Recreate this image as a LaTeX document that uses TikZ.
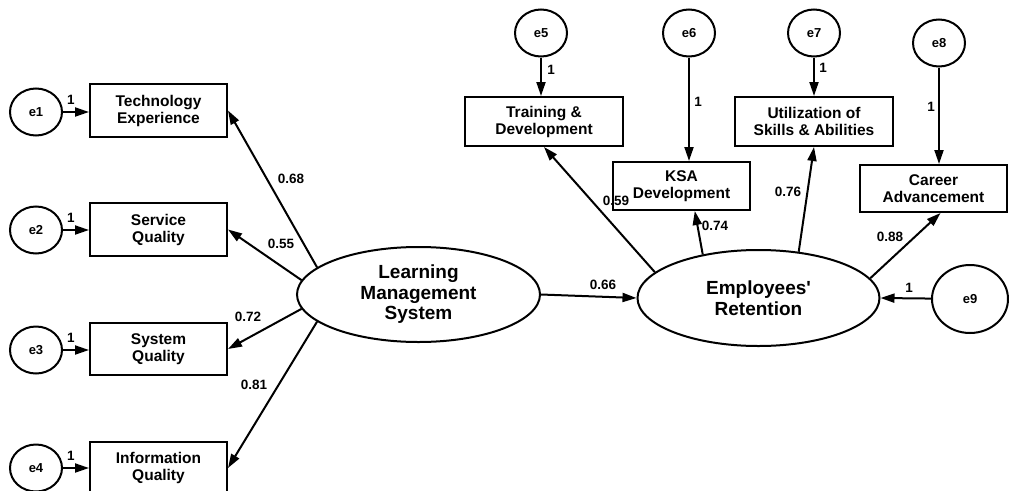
\documentclass[tikz,border=0pt]{standalone}
\usepackage{fontspec}
\setmainfont{Liberation Sans}
\usetikzlibrary{arrows.meta,shapes.geometric}
\begin{document}
\begin{tikzpicture}[x=1pt,y=-1pt,
  line width=2pt,
  obs/.style={draw,rectangle,inner sep=0pt,align=center,
    font=\bfseries\fontsize{15.5}{17}\selectfont},
  lat/.style={draw,ellipse,inner sep=0pt,align=center,
    minimum width=243pt,minimum height=95pt,
    font=\bfseries\fontsize{19}{20.5}\selectfont},
  err/.style={draw,ellipse,inner sep=0pt,minimum width=52pt,minimum height=47pt,
    font=\bfseries\fontsize{13}{14}\selectfont},
  coef/.style={inner sep=0pt,font=\bfseries\fontsize{13.5}{14}\selectfont},
  path/.style={-{Triangle[length=14pt,width=9pt]}}]
\useasboundingbox (0,0) rectangle (1009,490);

% measurement side of the exogenous construct
\node[err] (e1) at (36,112) {e1};
\node[err] (e2) at (36,230) {e2};
\node[err] (e3) at (36,350) {e3};
\node[err] (e4) at (36,468) {e4};
\node[obs,minimum width=137pt,minimum height=53pt] (te) at (158.5,110.5) {Technology\\Experience};
\node[obs,minimum width=137pt,minimum height=53pt] (sq) at (158.5,229.5) {Service\\Quality};
\node[obs,minimum width=137pt,minimum height=52pt] (syq) at (158.5,349) {System\\Quality};
\node[obs,minimum width=137pt,minimum height=52pt] (iq) at (158.5,468) {Information\\Quality};

\node[lat] (lms) at (418.5,294.5) {Learning\\Management\\System};
\node[lat,minimum width=242pt,minimum height=96pt] (er) at (758.5,298) {Employees\textquotesingle\\Retention};

% indicators of the endogenous construct
\node[err] (e5) at (541,33) {e5};
\node[err] (e6) at (689,33) {e6};
\node[err] (e7) at (814,33) {e7};
\node[err] (e8) at (939,43) {e8};
\node[err,minimum width=76pt,minimum height=68pt] (e9) at (970,299) {e9};
\node[obs,minimum width=158pt,minimum height=49pt] (td) at (544,121.5) {Training \&\\Development};
\node[obs,minimum width=137pt,minimum height=48pt] (ksa) at (681.5,186) {KSA\\Development};
\node[obs,minimum width=158pt,minimum height=49pt] (util) at (814,121.5) {Utilization of\\Skills \& Abilities};
\node[obs,minimum width=147pt,minimum height=47pt] (ca) at (933.5,188.5) {Career\\Advancement};

% error terms
\draw[path] (e1) -- (te.west |- e1);
\draw[path] (e2) -- (sq.west |- e2);
\draw[path] (e3) -- (syq.west |- e3);
\draw[path] (e4) -- (iq.west |- e4);
\draw[path] (e5) -- (e5 |- td.north);
\draw[path] (e6) -- (e6 |- ksa.north);
\draw[path] (e7) -- (e7 |- util.north);
\draw[path] (e8) -- (e8 |- ca.north);
\draw[path] (e9) -- (er.east);

% loadings and structural path
\draw[path] (lms.165) -- (te.east);
\draw[path] (lms.173) -- (sq.east);
\draw[path] (lms.187) -- (syq.east);
\draw[path] (lms.195) -- (iq.east);
\draw[path] (lms.east) -- (er.west);
\draw[path] (er.166) -- (td.south);
\draw[path] (er.142) -- (ksa.-62);
\draw[path] (er.49) -- (util.south);
\draw[path] (er.10) -- (ca.-74);

% coefficients
\node[coef] (k1) at (71,100) {1};
\node[coef] (k2) at (71,218) {1};
\node[coef] (k3) at (71,338) {1};
\node[coef] (k4) at (71,456) {1};
\node[coef] (k5) at (551,70) {1};
\node[coef] (k6) at (698,102) {1};
\node[coef] (k7) at (823,68) {1};
\node[coef] (k8) at (931,107) {1};
\node[coef] (k9) at (909,288) {1};
\node[coef] (c68) at (291,179) {0.68};
\node[coef] (c55) at (281,244) {0.55};
\node[coef] (c72) at (248,317) {0.72};
\node[coef] (c81) at (254,385) {0.81};
\node[coef] (c66) at (603,285) {0.66};
\node[coef] (c59) at (616,201) {0.59};
\node[coef] (c74) at (715,226) {0.74};
\node[coef] (c76) at (788,192) {0.76};
\node[coef] (c88) at (890,237) {0.88};
\end{tikzpicture}
\end{document}
